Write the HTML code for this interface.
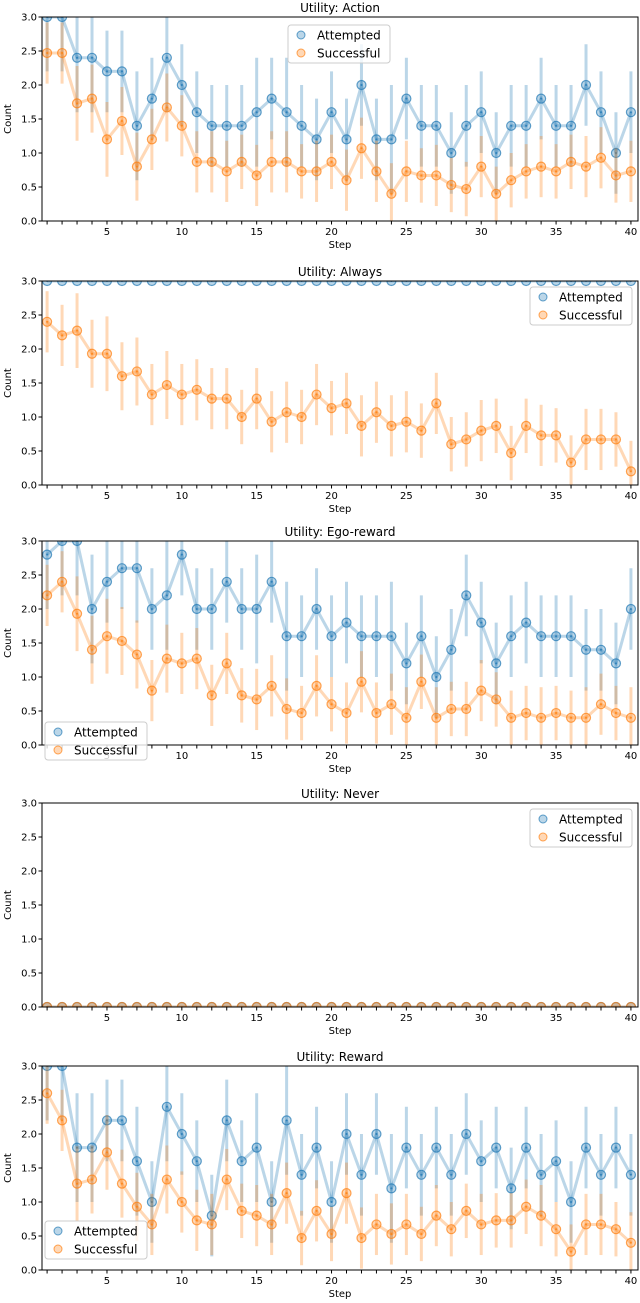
<!DOCTYPE html>
<html><head><meta charset="utf-8"><style>
body{margin:0;background:#fff;}
svg{display:block;font-family:"DejaVu Sans","Liberation Sans",sans-serif;}
</style></head><body>
<svg id="chart" width="640" height="1303" viewBox="0 0 640 1303"></svg>
<script>
const steps = Array.from({length:40},(_,i)=>i+1);
const titles = ["Utility: Action","Utility: Always","Utility: Ego-reward","Utility: Never","Utility: Reward"];
const att1 = [3.0,3.0,2.4,2.4,2.2,2.2,1.4,1.8,2.4,2.0,1.6,1.4,1.4,1.4,1.6,1.8,1.6,1.4,1.2,1.6,1.2,2.0,1.2,1.2,1.8,1.4,1.4,1.0,1.4,1.6,1.0,1.4,1.4,1.8,1.4,1.4,2.0,1.6,1.0,1.6];
const suc1 = [2.47,2.47,1.73,1.8,1.2,1.47,0.8,1.2,1.67,1.4,0.87,0.87,0.73,0.87,0.67,0.87,0.87,0.73,0.73,0.87,0.6,1.07,0.73,0.4,0.73,0.67,0.67,0.53,0.47,0.8,0.4,0.6,0.73,0.8,0.73,0.87,0.8,0.93,0.67,0.73];
const att2 = Array(40).fill(3.0);
const suc2 = [2.4,2.2,2.27,1.93,1.93,1.6,1.67,1.33,1.47,1.33,1.4,1.27,1.27,1.0,1.27,0.93,1.07,1.0,1.33,1.13,1.2,0.87,1.07,0.87,0.93,0.8,1.2,0.6,0.67,0.8,0.87,0.47,0.87,0.73,0.73,0.33,0.67,0.67,0.67,0.2];
const att3 = [2.8,3.0,3.0,2.0,2.4,2.6,2.6,2.0,2.2,2.8,2.0,2.0,2.4,2.0,2.0,2.4,1.6,1.6,2.0,1.6,1.8,1.6,1.6,1.6,1.2,1.6,1.0,1.4,2.2,1.8,1.2,1.6,1.8,1.6,1.6,1.6,1.4,1.4,1.2,2.0];
const suc3 = [2.2,2.4,1.93,1.4,1.6,1.53,1.33,0.8,1.27,1.2,1.27,0.73,1.2,0.73,0.67,0.87,0.53,0.47,0.87,0.6,0.47,0.93,0.47,0.6,0.4,0.93,0.4,0.53,0.53,0.8,0.67,0.4,0.47,0.4,0.47,0.4,0.4,0.6,0.47,0.4];
const att4 = Array(40).fill(0);
const suc4 = Array(40).fill(0);
const att5 = [3.0,3.0,1.8,1.8,2.2,2.2,1.6,1.0,2.4,2.0,1.6,0.8,2.2,1.6,1.8,1.0,2.2,1.4,1.8,1.0,2.0,1.4,2.0,1.2,1.8,1.4,1.8,1.4,2.0,1.6,1.8,1.2,1.8,1.4,1.6,1.0,1.8,1.4,1.8,1.4];
const suc5 = [2.6,2.2,1.27,1.33,1.73,1.27,0.93,0.67,1.33,1.0,0.73,0.67,1.33,0.87,0.8,0.67,1.13,0.47,0.87,0.53,1.13,0.47,0.67,0.53,0.67,0.53,0.8,0.6,0.87,0.67,0.73,0.73,0.93,0.8,0.6,0.27,0.67,0.67,0.6,0.4];
const attErr = [0.8,0.8,0.8,0.8,0.6,0.6,0.8,0.6,0.8,0.6,0.6,0.6,0.6,0.6,0.8,0.6,0.8,0.6,0.6,0.6,0.6,0.6,0.6,0.8,0.6,0.6,0.6,0.6,0.6,0.6,0.6,0.6,0.6,0.6,0.6,0.6,0.6,0.6,0.6,0.6];
const sucErr = [0.45,0.45,0.55,0.5,0.55,0.5,0.5,0.45,0.5,0.45,0.45,0.45,0.45,0.4,0.45,0.45,0.45,0.4,0.45,0.4,0.45,0.45,0.45,0.45,0.45,0.4,0.45,0.4,0.4,0.45,0.4,0.4,0.4,0.45,0.4,0.4,0.45,0.45,0.4,0.45];
const noErr = Array(40).fill(0);
const yTicks = [0,0.5,1.0,1.5,2.0,2.5,3.0];
const xTicks = [5,10,15,20,25,30,35,40];

const panels = [
 {att:att1,suc:suc1,ae:attErr,se:sucErr,top:17,leg:[288,25]},
 {att:att2,suc:suc2,ae:noErr,se:sucErr,top:281,leg:[530,287]},
 {att:att3,suc:suc3,ae:attErr,se:sucErr,top:541,leg:[45,722]},
 {att:att4,suc:suc4,ae:noErr,se:noErr,top:803,leg:[530,809]},
 {att:att5,suc:suc5,ae:attErr,se:sucErr,top:1066,leg:[45,1221]}
];
const L=42,R=638,H=204;
const svg=document.getElementById('chart');
const NS='http://www.w3.org/2000/svg';
function mk(tag,attrs,parent){const e=document.createElementNS(NS,tag);for(const k in attrs)e.setAttribute(k,attrs[k]);(parent||svg).appendChild(e);return e;}
const xs=s=>47.1+(s-1)*14.97;
const BLUE='#1f77b4',ORANGE='#ff7f0e';
panels.forEach((p,pi)=>{
  const g=mk('g',{});
  
  
  const ys=v=>p.top+H-(v/3)*H;
  const clip=mk('clipPath',{id:'c'+pi},g);
  mk('rect',{x:L,y:p.top,width:R-L,height:H},clip);
  const t=mk('text',{x:340,y:p.top-5,'text-anchor':'middle','font-size':12},g);
  t.textContent=titles[pi];
  
  
  const plot=mk('g',{'clip-path':'url(#c'+pi+')'},g);
  [[p.att,p.ae,BLUE,'attempted'],[p.suc,p.se,ORANGE,'successful']].forEach(([vals,err,col,nm])=>{
    vals.forEach((v,i)=>{ if(err[i]>0){
      const b=mk('line',{x1:xs(steps[i]),x2:xs(steps[i]),y1:ys(v-err[i]),y2:ys(v+err[i]),stroke:col,'stroke-width':3,'stroke-opacity':0.3},plot);
      
      
    }});
    const pl=mk('polyline',{points:vals.map((v,i)=>xs(steps[i])+','+ys(v)).join(' '),fill:'none',stroke:col,'stroke-width':3,'stroke-opacity':0.3},plot);
    
    
    vals.forEach((v,i)=>{
      const c=mk('circle',{cx:xs(steps[i]),cy:ys(v),r:4.5,fill:col,'fill-opacity':0.3,stroke:col,'stroke-opacity':0.7,'stroke-width':1.2},plot);
      
      
      mk('circle',{cx:xs(steps[i]),cy:ys(v),r:1,fill:col,'fill-opacity':0.8},plot);
    });
  });
  mk('rect',{x:L,y:p.top,width:R-L,height:H,fill:'none',stroke:'#000','stroke-width':1},g);
  yTicks.forEach(v=>{
    mk('line',{x1:L-3.5,x2:L,y1:ys(v),y2:ys(v),stroke:'#000'},g);
    const tx=mk('text',{x:L-5,y:ys(v)+3.5,'text-anchor':'end','font-size':10},g);
    tx.textContent=v.toFixed(1);
    
    
  });
  steps.forEach(s=>mk('line',{x1:xs(s),x2:xs(s),y1:p.top+H,y2:p.top+H+3.5,stroke:'#000'},g));
  xTicks.forEach(s=>{
    const tx=mk('text',{x:xs(s),y:p.top+H+14,'text-anchor':'middle','font-size':10},g);
    tx.textContent=s;
    
    
  });
  const xl=mk('text',{x:340,y:p.top+H+27,'text-anchor':'middle','font-size':10},g);
  xl.textContent='Step';
  
  
  const yl=mk('text',{x:11,y:p.top+H/2,'text-anchor':'middle','font-size':10,transform:'rotate(-90 11 '+(p.top+H/2)+')'},g);
  yl.textContent='Count';
  
  
  const [lx,ly]=p.leg;
  const lg=mk('g',{},g);
  
  
  mk('rect',{x:lx,y:ly,width:102,height:38,rx:3,fill:'#fff','fill-opacity':0.8,stroke:'#ccc'},lg);
  [['Attempted',BLUE],['Successful',ORANGE]].forEach(([lab,col],k)=>{
    const cy=ly+10+k*18;
    mk('circle',{cx:lx+13,cy:cy,r:4,fill:col,'fill-opacity':0.3,stroke:col,'stroke-opacity':0.7},lg);
    const lt=mk('text',{x:lx+29,y:cy+4.5,'font-size':12},lg);
    lt.textContent=lab;
    
    
  });
});
</script>
</body></html>
